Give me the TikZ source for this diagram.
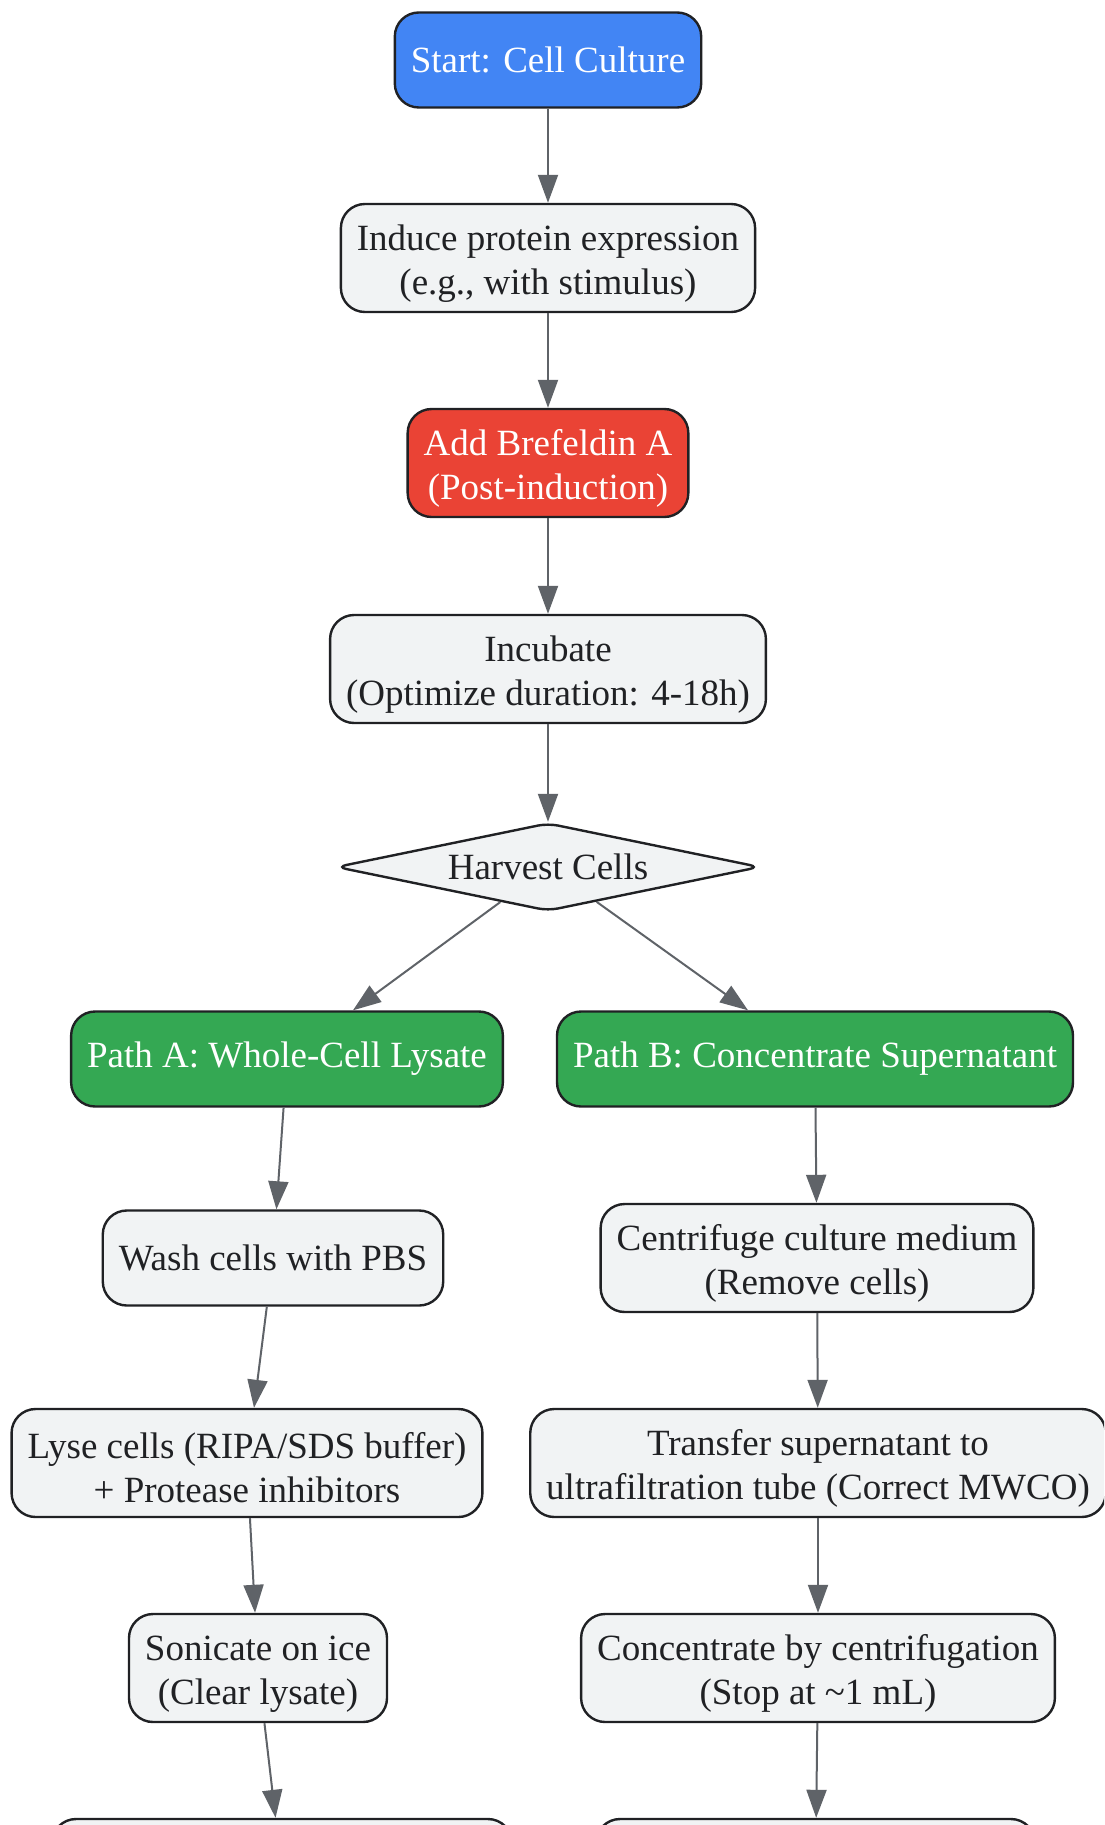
\documentclass[tikz,border=0pt]{standalone}
\usepackage{fontspec}
\setmainfont{Liberation Serif}
\usepackage{xcolor}
\usepackage{tikz}
\usetikzlibrary{shapes.geometric,arrows.meta}

\definecolor{nodegray}{HTML}{F1F3F4}
\definecolor{edgegray}{HTML}{5F6368}
\definecolor{outline}{HTML}{202124}
\definecolor{startblue}{HTML}{4285F4}
\definecolor{stopred}{HTML}{EA4335}
\definecolor{pathgreen}{HTML}{34A853}

\tikzset{
  stepnode/.style={rectangle, rounded corners=12pt, draw=outline, line width=1.2pt,
    fill=nodegray, text=outline, align=center, inner xsep=8pt, inner ysep=0pt,
    minimum height=47.5pt, font=\fontsize{18.5}{22}\selectfont},
  twoline/.style={minimum height=54pt, text height=40pt},
  keynode/.style={stepnode, text=white},
  decide/.style={diamond, aspect=4.8, draw=outline, line width=1.2pt, fill=nodegray,
    text=outline, rounded corners=5pt, inner sep=0pt, minimum width=212pt,
    minimum height=44pt, font=\fontsize{18.5}{22}\selectfont},
  flow/.style={draw=edgegray, line width=1pt, -{Triangle[length=14pt,width=10pt]}}
}

\begin{document}
\begin{tikzpicture}[x=0.5pt, y=-0.5pt]
    \useasboundingbox (0,0) rectangle (1104,1825);
    \clip (0,0) rectangle (1104,1825);

    \node[keynode, fill=startblue] (start) at (548,60) {Start: Cell Culture};
    \node[stepnode, twoline] (induce) at (548,258) {Induce protein expression\\(e.g., with stimulus)};
    \node[keynode, twoline, fill=stopred] (brefeldin) at (548,463) {Add Brefeldin A\\(Post-induction)};
    \node[stepnode, twoline] (incubate) at (548,669) {Incubate\\(Optimize duration: 4-18h)};
    \node[decide] (harvest) at (548,867) {Harvest Cells};

    \node[keynode, fill=pathgreen] (pathA) at (287,1059) {Path A: Whole-Cell Lysate};
    \node[keynode, fill=pathgreen] (pathB) at (815,1059) {Path B: Concentrate Supernatant};

    \node[stepnode] (wash) at (273,1258) {Wash cells with PBS};
    \node[stepnode, twoline] (lyse) at (247,1463) {Lyse cells (RIPA/SDS buffer)\\+ Protease inhibitors};
    \node[stepnode, twoline] (sonicate) at (258,1668) {Sonicate on ice\\(Clear lysate)};
    \node[stepnode, twoline, minimum width=230pt] (lysateend) at (282,1873) {};

    \node[stepnode, twoline] (centrifuge) at (817,1258) {Centrifuge culture medium\\(Remove cells)};
    \node[stepnode, twoline] (transfer) at (818,1463) {Transfer supernatant to\\ultrafiltration tube (Correct MWCO)};
    \node[stepnode, twoline] (concentrate) at (818,1668) {Concentrate by centrifugation\\(Stop at \textasciitilde1 mL)};
    \node[stepnode, twoline, minimum width=219.5pt] (concend) at (815.5,1873) {};

    \foreach \a/\b in {start/induce, induce/brefeldin, brefeldin/incubate, incubate/harvest,
        pathA/wash, wash/lyse, lyse/sonicate, sonicate/lysateend,
        pathB/centrifuge, centrifuge/transfer, transfer/concentrate, concentrate/concend}
        \draw[flow] (\a) -- (\b);
    \draw[flow] (harvest) -- ([xshift=33pt]pathA.north);
    \draw[flow] (harvest) -- ([xshift=-33.5pt]pathB.north);
\end{tikzpicture}
\end{document}
